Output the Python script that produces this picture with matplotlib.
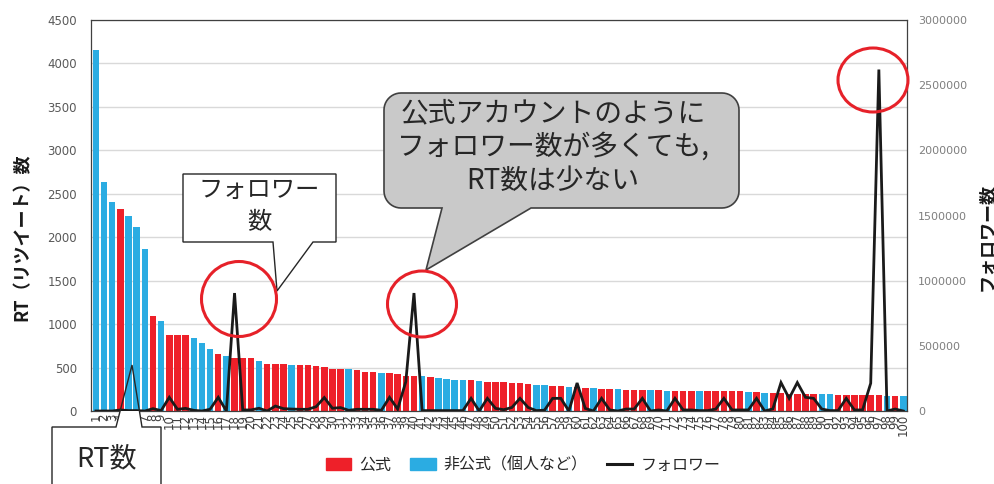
import numpy as np
import matplotlib.pyplot as plt
import matplotlib.transforms as mtransforms
from matplotlib.patches import Patch, Polygon, Ellipse
from matplotlib.lines import Line2D

plt.rcParams['font.family'] = ['DejaVu Sans', 'Noto Sans CJK JP']
JP = 'Noto Sans CJK JP'

W, H, DPI = 995, 484, 100

# RT ranking, top 100 tweets
rank = list(range(1, 101))
retweets = [4150, 2630, 2400, 2330, 2250, 2120, 1860, 1090, 1040, 875,
            875, 875, 840, 785, 715, 655, 632, 605, 605, 605,
            577, 542, 542, 542, 535, 531, 527, 519, 506, 488,
            488, 481, 469, 452, 452, 438, 435, 423, 405, 402,
            402, 390, 375, 365, 357, 356, 353, 345, 337, 334,
            330, 327, 319, 315, 296, 294, 285, 283, 279, 274,
            269, 265, 250, 250, 250, 242, 242, 238, 238, 236,
            234, 234, 233, 233, 232, 231, 230, 230, 227, 226,
            215, 214, 208, 207, 206, 200, 199, 197, 192, 191,
            190, 188, 187, 185, 184, 183, 181, 177, 176, 173]
# O = official account, P = private / unofficial
account = ("PPPOPPPOPOOOPPPOPOOO"
           "POOOPOOOOOOPOOOPOOOO"
           "POPPPPOPOOOOOOPPOOPO"
           "OPOOPOOOPOPOOOPOOOOO"
           "POPOOOOOOPPOOOOOOPOP")
followers = [0, 0, 0, 8000, 3000, 3000, 0, 18000, 3000, 105000,
             13000, 20000, 5000, 0, 13000, 105000, 0, 905000, 8000, 8000,
             21000, 0, 38000, 18000, 15000, 13000, 13000, 33000, 103000, 21000,
             26000, 5000, 13000, 13000, 13000, 5000, 105000, 15000, 225000, 905000,
             3000, 3000, 3000, 3000, 3000, 3000, 97000, 0, 97000, 20000,
             10000, 27000, 97000, 27000, 3000, 6000, 97000, 97000, 0, 215000,
             20000, 0, 97000, 8000, 0, 15000, 15000, 97000, 0, 8000,
             0, 97000, 8000, 8000, 3000, 3000, 15000, 97000, 8000, 8000,
             8000, 97000, 0, 16000, 218000, 97000, 218000, 105000, 97000, 15000,
             3000, 3000, 97000, 8000, 8000, 213000, 2620000, 0, 15000, 0]

RED = '#EE2029'
BLUE = '#2BACE2'
colors = [RED if a == 'O' else BLUE for a in account]

fig = plt.figure(figsize=(W / DPI, H / DPI), dpi=DPI)
ax = fig.add_axes([91 / W, (H - 411) / H, 816 / W, 391 / H])

ax.bar(rank, retweets, width=0.8, color=colors, zorder=2)
ax.set_xlim(0.4, 100.45)
ax.set_ylim(0, 4500)
ax.set_yticks(np.arange(0, 4501, 500))
ax.yaxis.grid(True, color='#D9D9D9', lw=1)
ax.set_axisbelow(True)
ax.set_xticks(rank)
ax.set_xticklabels([str(r) for r in rank], rotation=90, fontsize=8.5,
                   color='#404040')
ax.tick_params(axis='x', length=0, pad=2)
ax.tick_params(axis='y', length=0, pad=10, labelsize=8.5, labelcolor='#595959')
for s in ax.spines.values():
    s.set_color('#404040')
    s.set_linewidth(0.9)

ax2 = ax.twinx()
ax2.plot(rank, followers, color='#1A1A1A', lw=2, solid_joinstyle='miter')
ax2.set_ylim(0, 3000000)
yt = np.arange(0, 3000001, 500000)
ax2.set_yticks(yt)
ax2.set_yticklabels([str(v) for v in yt])
ax2.tick_params(axis='y', length=0, pad=8, labelsize=8, labelcolor='#7F7F7F')
for s in ax2.spines.values():
    s.set_visible(False)

fig.text(22 / W, 1 - 237 / H, 'RT（リツイート）数', rotation=90, ha='center',
         va='center', fontsize=13, fontweight='bold', family=JP, color='#1A1A1A')
fig.text(986 / W, 1 - 237 / H, 'フォロワー数', rotation=90, ha='center',
         va='center', fontsize=13, fontweight='bold', family=JP, color='#1A1A1A')

handles = [Patch(color=RED), Patch(color=BLUE),
           Line2D([], [], color='#1A1A1A', lw=2.2)]
fig.legend(handles, ['公式', '非公式（個人など）', 'フォロワー'], loc='center',
           bbox_to_anchor=(523 / W, 1 - 465 / H), ncol=3, frameon=False,
           prop={'family': JP, 'size': 11.5}, handlelength=1.6,
           handleheight=0.8, handletextpad=0.5, columnspacing=1.2,
           labelcolor='#262626')

# pixel coordinates, origin top-left
pix = mtransforms.Affine2D().scale(1 / DPI, -1 / DPI).translate(0, H / DPI) \
    + fig.dpi_scale_trans


def rounded_box(x0, y0, x1, y1, r, tail):
    pts = []
    corners = [(x1 - r, y1 - r, 0, 90), (x0 + r, y1 - r, 90, 180),
               (x0 + r, y0 + r, 180, 270), (x1 - r, y0 + r, 270, 360)]
    for i, (cx, cy, a0, a1) in enumerate(corners):
        t = np.radians(np.linspace(a0, a1, 12))
        pts += list(zip(cx + r * np.cos(t), cy + r * np.sin(t)))
        if i == 0:
            pts += tail
    return pts


# grey speech bubble
bubble = rounded_box(384, 93, 739, 208, 17,
                     [(531, 208), (426, 270), (442, 208)])
fig.add_artist(Polygon(bubble, closed=True, transform=pix, fc='#C9C9C9',
                       ec='#404040', lw=1.2, zorder=5))
for y, s in [(113, '公式アカウントのように'), (147, 'フォロワー数が多くても,'),
             (181, 'RT数は少ない')]:
    fig.text(553 / W, 1 - y / H, s, ha='center', va='center', fontsize=20,
             family=JP, color='#262626', zorder=6)

# follower callout
fbox = [(183, 174), (336, 174), (336, 242), (313, 242), (277, 291),
        (273, 242), (183, 242)]
fig.add_artist(Polygon(fbox, closed=True, transform=pix, fc='white',
                       ec='#262626', lw=1, zorder=5))
fig.text(259 / W, 1 - 190 / H, 'フォロワー', ha='center', va='center',
         fontsize=17.5, family=JP, color='#262626', zorder=6)
fig.text(259 / W, 1 - 222 / H, '数', ha='center', va='center',
         fontsize=17.5, family=JP, color='#262626', zorder=6)

# RT callout: white only below the plot area, the tail stays see-through
rfill = [(52, 500), (52, 427), (116, 427), (120, 411), (139.5, 411),
         (142, 427), (161, 427), (161, 500)]
rbox = [(52, 500), (52, 427), (116, 427), (132, 365), (142, 427),
        (161, 427), (161, 500)]
fig.add_artist(Polygon(rfill, closed=True, transform=pix, fc='white',
                       ec='none', zorder=5))
fig.add_artist(Polygon(rbox, closed=True, transform=pix, fill=False,
                       ec='#262626', lw=1, zorder=5))
fig.text(107 / W, 1 - 459 / H, 'RT数', ha='center', va='center',
         fontsize=19.5, family=JP, color='#262626', zorder=6)

# highlight circles
for cx, cy, rx, ry in [(239, 299, 37.5, 37.5), (422, 304, 34.5, 33),
                       (873, 80, 35, 32)]:
    fig.add_artist(Ellipse((cx, cy), 2 * rx, 2 * ry, transform=pix,
                           fill=False, ec='#E62129', lw=2.2, zorder=7))

fig.savefig('out.png', dpi=DPI)
